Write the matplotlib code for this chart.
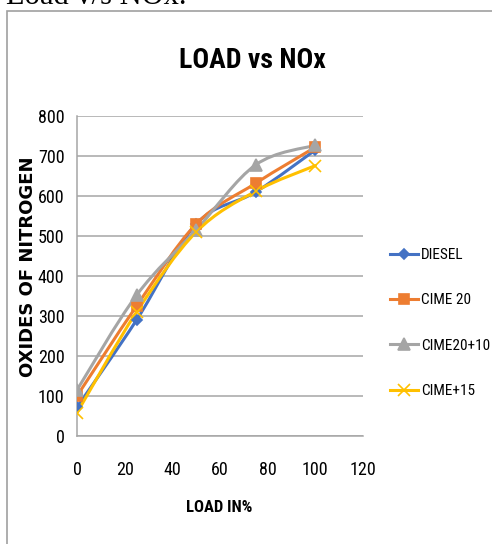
import numpy as np
import matplotlib
matplotlib.use("Agg")
import matplotlib.pyplot as plt
from matplotlib.path import Path
from matplotlib.patches import PathPatch
from matplotlib.lines import Line2D

# Engine load (%) and NOx readings for each fuel blend
load = [0, 25, 50, 75, 100]
diesel = [72, 290, 530, 610, 715]
cime20 = [100, 325, 530, 632, 722]
cime20_10 = [115, 352, 515, 678, 727]
cime_15 = [58, 310, 510, 612, 676]

series_names = ["DIESEL", "CIME 20", "CIME20+10", "CIME+15"]
series_values = [diesel, cime20, cime20_10, cime_15]
colors = ["#4472C4", "#ED7D31", "#A5A5A5", "#FFC000"]
markers = ["D", "s", "^", "x"]
msizes = [5, 7, 8, 9]

y_ticks = [0, 100, 200, 300, 400, 500, 600, 700, 800]
x_ticks = [0, 20, 40, 60, 80, 100, 120]

NARROW = ["Liberation Sans Narrow", "Roboto Condensed", "Open Sans", "DejaVu Sans"]


def smooth_path(x, y, tension=1 / 6):
    """Cubic Bezier through the points, Catmull-Rom style control points."""
    x = np.asarray(x, float)
    y = np.asarray(y, float)
    verts = [(x[0], y[0])]
    codes = [Path.MOVETO]
    n = len(x)
    for i in range(n - 1):
        p0 = (x[max(i - 1, 0)], y[max(i - 1, 0)])
        p1 = (x[i], y[i])
        p2 = (x[i + 1], y[i + 1])
        p3 = (x[min(i + 2, n - 1)], y[min(i + 2, n - 1)])
        c1 = (p1[0] + (p2[0] - p0[0]) * tension, p1[1] + (p2[1] - p0[1]) * tension)
        c2 = (p2[0] - (p3[0] - p1[0]) * tension, p2[1] - (p3[1] - p1[1]) * tension)
        verts += [c1, c2, p2]
        codes += [Path.CURVE4] * 3
    return Path(verts, codes)


fig = plt.figure(figsize=(4.92, 5.44), dpi=100)

# page text above the chart box
fig.text(6 / 492, 1 - 4 / 544, "Load v/s NOx.", family=["Liberation Serif", "DejaVu Serif"],
         fontsize=22, ha="left", va="baseline", color="black")

# chart box border
border = plt.Rectangle((7 / 492, -0.01), 1.0, 1 - 11 / 544 + 0.01, transform=fig.transFigure,
                       fill=False, edgecolor="#A0A0A0", linewidth=1.2)
fig.patches.append(border)

ax = fig.add_axes([77 / 492, 108 / 544, 286 / 492, 320 / 544])
ax.set_xlim(0, 120)
ax.set_ylim(0, 800)
ax.set_xticks(x_ticks)
ax.set_yticks(y_ticks)
ax.tick_params(axis="y", length=0, labelsize=13, pad=9)
ax.tick_params(axis="x", length=0, labelsize=13, pad=18)
for lab in ax.get_xticklabels() + ax.get_yticklabels():
    lab.set_family(NARROW)
ax.grid(axis="y", color="#A6A6A6", linewidth=1.1)
ax.set_axisbelow(True)
for side in ["top", "right"]:
    ax.spines[side].set_visible(False)
for side in ["left", "bottom"]:
    ax.spines[side].set_color("#A6A6A6")
    ax.spines[side].set_linewidth(1.1)

handles = []
for name, vals, c, m, ms in zip(series_names, series_values, colors, markers, msizes):
    ax.add_patch(PathPatch(smooth_path(load, vals), facecolor="none", edgecolor=c,
                           linewidth=2.2, zorder=3, capstyle="round", joinstyle="round"))
    ax.plot(load, vals, linestyle="none", marker=m, color=c, markersize=ms,
            markeredgewidth=1.2, zorder=4)
    handles.append(Line2D([], [], color=c, linewidth=2.2, marker=m, markersize=ms,
                          markeredgewidth=1.2))

fig.text(252 / 492, 1 - 60 / 544, "LOAD vs NOx", family=NARROW, fontsize=20,
         fontweight="bold", ha="center", va="center")
fig.text(219 / 492, 1 - 507 / 544, "LOAD IN%", family=NARROW, fontsize=12,
         fontweight="bold", ha="center", va="center")
fig.text(28 / 492, 1 - 267 / 544, "OXIDES OF NITROGEN", family=["DejaVu Sans"],
         fontsize=13, fontweight="bold", rotation=90, ha="center", va="center")

leg = fig.legend(handles, series_names, loc="upper left",
                 bbox_to_anchor=(390 / 492, 1 - 248 / 544), frameon=False,
                 borderpad=0, borderaxespad=0,
                 handlelength=1.85, handletextpad=0.2, labelspacing=2.05,
                 prop={"family": NARROW, "size": 11})

fig.savefig("out.png", dpi=100)
